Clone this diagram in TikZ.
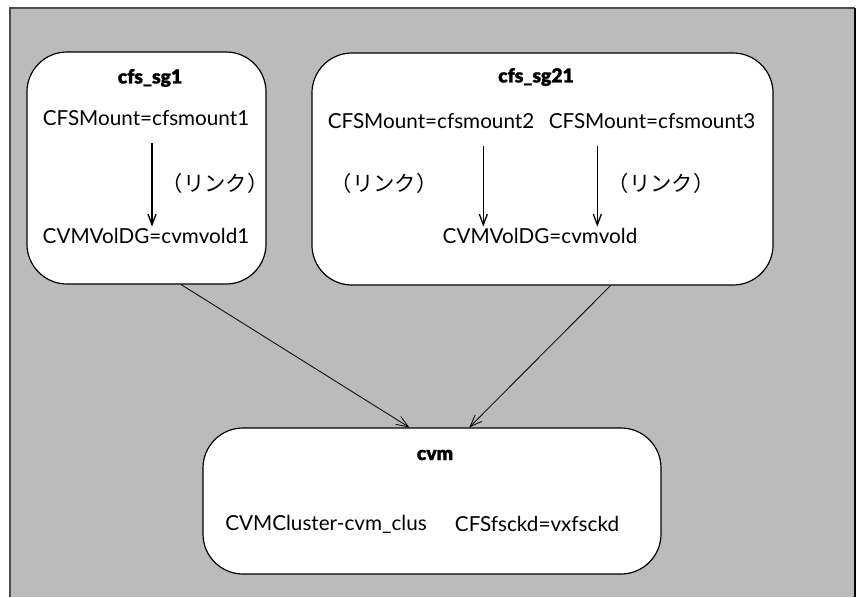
\documentclass[tikz,border=0pt]{standalone}
\usepackage{fontspec}
\setmainfont{Lato}
\newfontfamily\headfont{Lato Black}[FakeBold=1.2]
\newfontfamily\jpfont{Noto Sans CJK JP}
\usetikzlibrary{arrows.meta,positioning,calc}

\begin{document}
\begin{tikzpicture}[x=0.75pt, y=-0.75pt,
    group/.style={draw, line width=0.9pt, fill=white, rounded corners=30pt, inner sep=0pt},
    res/.style={font=\fontsize{15.5}{18}\selectfont, inner sep=1pt},
    head/.style={font=\headfont\fontsize{14.5}{17}\selectfont, inner sep=1pt},
    linklabel/.style={font=\jpfont\fontsize{16}{18}\selectfont, inner sep=1pt},
    link/.style={-{Straight Barb[length=8pt, width=6pt]}, line width=1pt},
    dep/.style={-{Straight Barb[length=9pt, width=7pt]}, line width=0.6pt}
  ]
    \useasboundingbox (0,0) rectangle (861,597);
    % panel
    \fill[fill={rgb,255:red,187;green,187;blue,187}] (10,8) rectangle (855,597);
    \draw[gray!60!black, line width=0.8pt] (10,597) -- (10,8) -- (855,8);
    \draw[black, line width=1.5pt] (855,8) -- (855,597);

    % groups
    \node[group, minimum width=179.3pt, minimum height=174pt] (sg1) at (146.5,168) {};
    \node[group, minimum width=345.8pt, minimum height=174pt] (sg21) at (542.5,169) {};
    \node[group, minimum width=343.5pt, minimum height=109.5pt] (cvm) at (432,501) {};

    % cfs_sg1
    \node[head] (sg1head) at (150,78) {cfs\_sg1};
    \node[res] (mount1) at (146,118) {CFSMount=cfsmount1};
    \node[res] (vol1) at (146,236) {CVMVolDG=cvmvold1};
    \node[linklabel] (lk1) at (215,183) {（リンク）};
    \draw[link] ([xshift=4.5pt,yshift=-12pt]mount1.south) -- ([xshift=4.5pt]vol1.north);

    % cfs_sg21
    \node[head] (sg21head) at (536,77) {cfs\_sg21};
    \node[res] (mount2) at (431,121) {CFSMount=cfsmount2};
    \node[res] (mount3) at (652,121) {CFSMount=cfsmount3};
    \node[res] (vol2) at (540,236) {CVMVolDG=cvmvold};
    \node[linklabel] (lk2) at (384,183) {（リンク）};
    \node[linklabel] (lk3) at (661,183) {（リンク）};
    \draw[link] ([xshift=-42.5pt,yshift=-12pt]mount2.south -| vol2) -- ([xshift=-42.5pt]vol2.north);
    \draw[link] ([xshift=43pt,yshift=-12pt]mount3.south -| vol2) -- ([xshift=43pt]vol2.north);

    % cvm
    \node[head] (cvmhead) at (435,455) {cvm};
    \node[res] (clus) at (326,524) {CVMCluster-cvm\_clus};
    \node[res] (fsck) at (537,524) {CFSfsckd=vxfsckd};

    % dependencies
    \draw[dep] ([xshift=26pt]sg1.south) -- ([xshift=-17pt]cvm.north);
    \draw[dep] ([xshift=51pt]sg21.south) -- ([xshift=28pt]cvm.north);
\end{tikzpicture}
\end{document}
